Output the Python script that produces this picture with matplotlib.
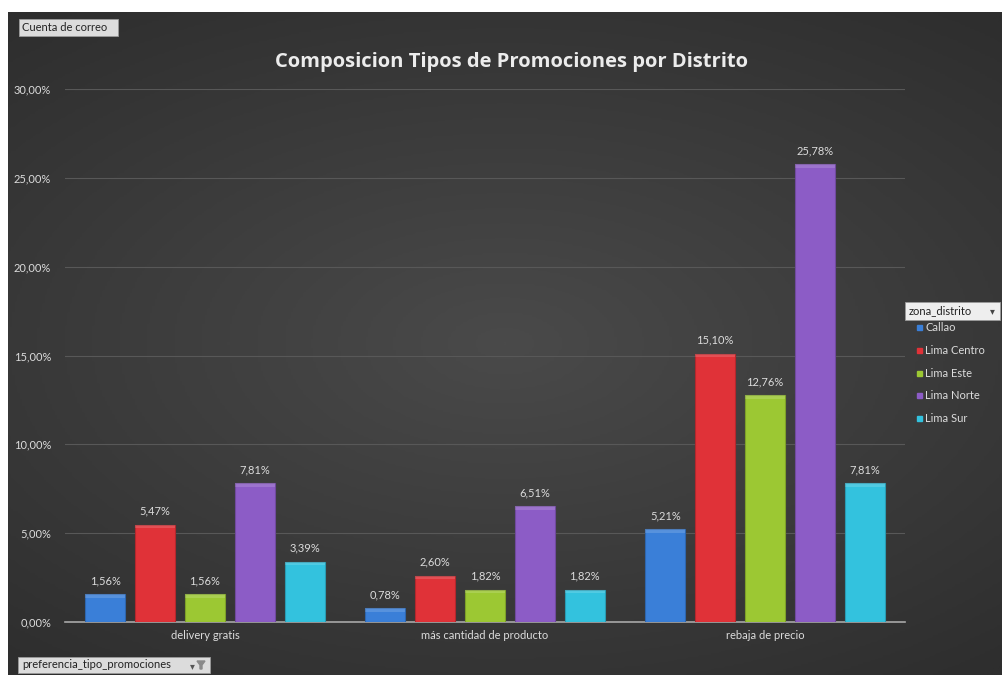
import numpy as np
import matplotlib
matplotlib.use("Agg")
import matplotlib.pyplot as plt
from matplotlib.patches import Rectangle, Polygon

categorias = ["delivery gratis", "más cantidad de producto", "rebaja de precio"]
zonas = ["Callao", "Lima Centro", "Lima Este", "Lima Norte", "Lima Sur"]
callao = [1.56, 0.78, 5.21]
lima_centro = [5.47, 2.60, 15.10]
lima_este = [1.56, 1.82, 12.76]
lima_norte = [7.81, 6.51, 25.78]
lima_sur = [3.39, 1.82, 7.81]
series = [callao, lima_centro, lima_este, lima_norte, lima_sur]
colores = ["#3a7fd8", "#e03238", "#9cc833", "#8c5cc6", "#33c2de"]
yticks = [0, 5, 10, 15, 20, 25, 30]

W, H = 1002, 675
fig = plt.figure(figsize=(W / 100, H / 100), dpi=100, facecolor="white")


def px(x0, y0, w, h):
    # pixel box (top-left origin) -> figure fraction rectangle
    return (x0 / W, 1 - (y0 + h) / H), w / W, h / H


# dark panel with soft radial shading
bg = fig.add_axes([8 / W, 0, 1 - 8 / W, 1 - 12 / H])
bg.set_axis_off()
yy, xx = np.mgrid[-1:1:300j, -1:1:400j]
r = np.sqrt((xx * 0.9) ** 2 + (yy * 1.1) ** 2)
shade = np.clip(1 - r / 1.4, 0, 1)
bg.imshow(shade, cmap=matplotlib.colors.LinearSegmentedColormap.from_list(
    "g", ["#2e2e2e", "#4a4a4a"]), aspect="auto", extent=[0, 1, 0, 1], vmin=0, vmax=1)

ax = fig.add_axes([65 / W, 1 - 622 / H, (905 - 65) / W, (622 - 89) / H])
ax.patch.set_alpha(0)
ax.set_xlim(-0.5, 2.5)
ax.set_ylim(0, 30)

txt = "#dcdcdc"
font = "Lato"
x = np.arange(len(categorias))
paso = 0.178
ancho = 0.143
for i, (vals, c) in enumerate(zip(series, colores)):
    pos = x + (i - 2) * paso
    ax.bar(pos, vals, width=ancho, color=c, edgecolor=matplotlib.colors.to_hex(
        np.array(matplotlib.colors.to_rgb(c)) * 0.8), linewidth=0.8, zorder=3)
    # faint lighter rim on top of each bar
    ax.bar(pos, [0.2] * len(vals), bottom=np.array(vals) - 0.2, width=ancho,
           color="white", alpha=0.15, linewidth=0, zorder=4)
    for xp, v in zip(pos, vals):
        ax.text(xp, v + 0.45, f"{v:.2f}%".replace(".", ","), ha="center",
                va="bottom", color=txt, fontsize=8, family=font)

ax.set_yticks(yticks)
ax.set_yticklabels([f"{t:.2f}%".replace(".", ",") for t in yticks])
ax.set_xticks(x)
ax.set_xticklabels(categorias)
ax.tick_params(length=0, colors=txt, labelsize=8, pad=6)
ax.tick_params(axis="y", pad=10)
for lab in ax.get_xticklabels() + ax.get_yticklabels():
    lab.set_family(font)
ax.grid(axis="y", color="#585858", linewidth=0.8, zorder=0)
for s in ["top", "right", "left"]:
    ax.spines[s].set_visible(False)
ax.spines["bottom"].set_color("#a8a8a8")
ax.spines["bottom"].set_linewidth(1.2)

fig.text(511 / W, 1 - 62 / H, "Composicion Tipos de Promociones por Distrito",
         ha="center", va="center", color="#ececec", fontsize=14.5,
         fontweight="bold", family="Open Sans")

# field buttons
boton = dict(transform=fig.transFigure, fc="#dcdcdc", ec="#9a9a9a", lw=0.6)
fig.patches.append(Rectangle(*px(19, 19, 99, 17), **boton))
fig.text(22 / W, 1 - 27.5 / H, "Cuenta de correo", ha="left", va="center",
         fontsize=8, color="#222222", family=font)

fig.patches.append(Rectangle(*px(18, 657, 192, 16), **boton))
fig.text(22 / W, 1 - 665 / H, "preferencia_tipo_promociones", ha="left",
         va="center", fontsize=8, color="#222222", family=font)
fig.text(192 / W, 1 - 666 / H, "\u25be", ha="center", va="center",
         fontsize=7, color="#555555", family="DejaVu Sans")
# little filter funnel next to the arrow
fx, fy = 201, 665
fig.patches.append(Polygon([((fx - 4) / W, 1 - (fy - 4) / H), ((fx + 4) / W, 1 - (fy - 4) / H),
                            ((fx + 1) / W, 1 - fy / H), ((fx + 1) / W, 1 - (fy + 4) / H),
                            ((fx - 1) / W, 1 - (fy + 4) / H), ((fx - 1) / W, 1 - fy / H)],
                           closed=True, transform=fig.transFigure, color="#8a8a8a"))

# legend
fig.patches.append(Rectangle(*px(905, 302, 95, 18), transform=fig.transFigure,
                             fc="#eeeeee", ec="#9a9a9a", lw=0.6))
fig.text(909 / W, 1 - 311 / H, "zona_distrito", ha="left", va="center",
         fontsize=8, color="#222222", family=font)
fig.text(992 / W, 1 - 311 / H, "\u25be", ha="center", va="center",
         fontsize=7, color="#444444", family="DejaVu Sans")
for k, (z, c) in enumerate(zip(zonas, colores)):
    yf = 1 - (328 + k * 22.6) / H
    fig.patches.append(Rectangle((917 / W, yf - 2.5 / H), 5 / W, 5 / H,
                                 transform=fig.transFigure, color=c))
    fig.text(925 / W, yf, z, ha="left", va="center", fontsize=8,
             color=txt, family=font)

fig.savefig("out.png", dpi=100, facecolor="white")
